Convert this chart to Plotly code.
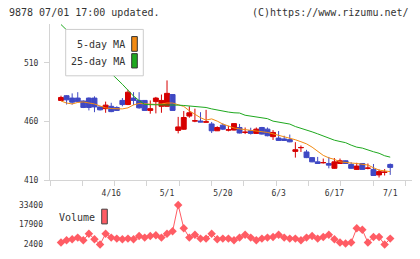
import plotly.graph_objects as go

# ---------------- data ----------------
tick_dates = ["4/16", "5/1", "5/20", "6/3", "6/17", "7/1"]
tick_idx = [9, 19, 29, 39, 49, 59]

opens = [478, 482, 480, 480, 477.5, 480, 480, 472.5, 471, 473,
         472, 478, 474.5, 480, 478, 478, 469.5, 477, 473, 473,
         483, 452.5, 453.5, 464.7, 460.5, 460.5, 459.5, 458, 452.2, 457,
         452.8, 452.8, 455, 450.8, 452.2, 450, 455, 453.6, 447.2, 446,
         445.3, 444.7, 434.7, 437.8, 434.2, 429.4, 425.8, 425, 424.4, 420.3,
         424.4, 426.7, 423.6, 419.4, 424.4, 420.3, 419.4, 414.7, 416.9, 423.6]
highs = [482, 482.5, 484, 485, 478, 480.5, 481.5, 473, 477, 476,
         473, 480, 487, 485, 485, 478, 478, 481, 483, 495,
         483, 464, 469, 473, 471, 468, 470, 459.7, 456, 458.5,
         456.4, 458.5, 458, 455, 454.8, 455, 455.5, 455, 452.8, 452,
         448, 449, 442.5, 439.7, 436, 429.5, 430, 428.6, 430, 429,
         428.6, 427, 425.5, 425, 424.5, 424.4, 424, 419.4, 419.7, 424.4]
lows = [477.5, 474.5, 474.5, 476.5, 471.5, 469.5, 468, 469.5, 467.5, 468,
        469, 473, 474, 474, 471, 469.5, 466.7, 467, 467.5, 473,
        469.5, 450, 453, 463.3, 459.5, 459.5, 459.5, 450.3, 452, 452.8,
        451.7, 452.5, 450, 449.4, 449, 449.5, 449, 447.5, 444.4, 443.8,
        443.7, 442.5, 429.4, 434.2, 429, 425.5, 424.2, 424.4, 420.3, 420,
        424, 424, 420, 419, 419.3, 419.4, 414, 412.5, 414.2, 414.7]
closes = [480.5, 478.5, 476.5, 477, 472, 472, 472.5, 470, 474, 468.5,
          469.5, 474.5, 485, 478, 471.7, 469.5, 471, 480, 478, 484,
          469.5, 455.5, 463.5, 467.5, 460.7, 459.7, 459.8, 452.2, 455, 453.6,
          453, 458.3, 450.3, 451, 450, 453.6, 449.4, 448, 450.8, 444,
          444, 442.8, 436.1, 438, 429.4, 425.8, 424.4, 425.2, 423, 425.8,
          426.7, 424.4, 420.3, 422.2, 419.4, 420.5, 414.2, 417.5, 417.1, 421.1]
ma5 = [477.5, 475.8, 475, 476.3, 476.7, 475.8, 475, 473.3, 471.7, 471.1,
       470.8, 470.8, 471.7, 474.2, 475.4, 475, 475, 474.6, 475, 475.8,
       475.8, 474.6, 472.9, 469.2, 466.1, 463.3, 461.3, 462.3, 460.4, 457.9,
       456.3, 454.6, 453.8, 453.3, 452.8, 452.1, 451.7, 450.8, 449.6, 448.3,
       447.5, 446.3, 444.6, 442.9, 441.1, 438.3, 434.6, 431.3, 429.2, 427.9,
       425.8, 425, 424.8, 424.4, 423.9, 423.1, 420.8, 418.8, 418.1, 417.5]
ma25 = [542.5, 537.9, 533.3, 528.8, 524.2, 519.6, 515, 510.4, 505.8, 501.3,
        497, 491.7, 486.7, 481.7, 477.9, 474.6, 474.4, 474.4, 474.2, 474.2,
        474.2, 474, 473.7, 473.3, 472.8, 472.3, 472, 470.8, 469.8, 468.9,
        468.1, 467.5, 467.3, 465.4, 464.6, 464, 463.5, 462.5, 460.4, 459.6,
        458.9, 457.9, 455.8, 454.3, 453.3, 451.3, 449.6, 447.9, 445.8, 444.2,
        443.1, 442.1, 440, 438.3, 437.5, 435.8, 434.4, 433.1, 431, 429.8]
volume = [3700, 5500, 6300, 7600, 5500, 10700, 6300, 2150, 10700, 7600,
          6800, 6300, 6800, 6300, 8800, 7600, 8800, 9400, 7600, 10700,
          12700, 33400, 15000, 7600, 9900, 6800, 6800, 10700, 6300, 6800,
          6800, 5500, 7600, 9900, 7600, 5500, 6800, 7600, 8100, 9900,
          7600, 6800, 6800, 5500, 7600, 8800, 6800, 8100, 9900, 6300,
          3700, 2900, 3700, 15000, 13800, 3700, 8100, 8100, 2150, 6800]
price_ticks = [410, 460, 510]
vol_ticks = [2400, 17900, 33400]

# ---------------- layout helpers ----------------
W, H = 420, 259
X_LEFT, X_RIGHT = 50, 412          # plot area in pixels
PX0, PXSTEP = 61, 5.58             # pixel of first candle, pixel per candle
x_idx = list(range(len(closes)))
x_range = [(X_LEFT - PX0) / PXSTEP, (X_RIGHT - PX0) / PXSTEP]
main_ticks = [((X_LEFT + 32.3 * k) - PX0) / PXSTEP for k in range(12)]


def py(p):
    return 1 - p / H


def pxx(p):
    return p / W


FONT = "DejaVu Sans Mono"
RED = "#d60000"
BLUE = "#3f48c4"
ORANGE = "#f28a12"
GREEN = "#1ea81e"
VOLC = "#ff5c64"
AXC = "#d4d4d4"

fig = go.Figure()
fig.add_trace(go.Candlestick(
    x=x_idx, open=opens, high=highs, low=lows, close=closes,
    increasing=dict(line=dict(color=RED, width=1), fillcolor=RED),
    decreasing=dict(line=dict(color=BLUE, width=1), fillcolor=BLUE),
    whiskerwidth=0, xaxis="x", yaxis="y", showlegend=False))
fig.add_trace(go.Scatter(x=x_idx, y=ma5, mode="lines",
                         line=dict(color=ORANGE, width=1), xaxis="x", yaxis="y",
                         showlegend=False))
fig.add_trace(go.Scatter(x=x_idx, y=ma25, mode="lines",
                         line=dict(color=GREEN, width=1), xaxis="x", yaxis="y",
                         showlegend=False))
fig.add_trace(go.Scatter(x=x_idx, y=volume, mode="lines+markers",
                         line=dict(color=VOLC, width=1),
                         marker=dict(symbol="diamond", size=6.5, color=VOLC),
                         xaxis="x2", yaxis="y2", showlegend=False))

tickfont = dict(family=FONT, size=8, color="#333")
fig.update_layout(
    width=W, height=H, margin=dict(l=0, r=0, t=0, b=0),
    paper_bgcolor="white", plot_bgcolor="white",
    boxgap=0.12, boxgroupgap=0,
    xaxis=dict(domain=[pxx(X_LEFT), pxx(X_RIGHT)], range=x_range,
               showgrid=False, zeroline=False, showline=True, linecolor=AXC,
               ticks="outside", ticklen=5, tickcolor=AXC,
               tickvals=main_ticks, showticklabels=False,
               rangeslider=dict(visible=False), anchor="y"),
    yaxis=dict(domain=[py(184), py(24)], range=[410, 410 + 160 / 1.2],
               showgrid=False, zeroline=False, showline=True, linecolor=AXC,
               ticks="outside", ticklen=5, tickcolor=AXC,
               tickvals=price_ticks, ticktext=[str(v) for v in price_ticks],
               tickfont=tickfont, ticklabelstandoff=4, anchor="x"),
    xaxis2=dict(domain=[pxx(X_LEFT), pxx(X_RIGHT)], range=x_range,
                showgrid=False, zeroline=False, showline=False,
                side="top", ticks="", tickvals=tick_idx, ticktext=tick_dates,
                tickfont=tickfont, anchor="y2"),
    yaxis2=dict(domain=[py(256), py(203)], range=[-3025, 38050],
                showgrid=False, zeroline=False, showline=False, ticks="",
                tickvals=vol_ticks, ticktext=[str(v) for v in vol_ticks],
                tickfont=tickfont, ticklabelstandoff=6, anchor="x2"),
)

shapes = [
    dict(type="rect", xref="paper", yref="paper", layer="above",
         x0=pxx(65.7), x1=pxx(143.3), y0=py(77.3), y1=py(30),
         fillcolor="white", line=dict(color="#cccccc", width=1)),
    dict(type="rect", xref="paper", yref="paper", layer="above",
         x0=pxx(131.7), x1=pxx(137.3), y0=py(52.3), y1=py(37.3),
         fillcolor=ORANGE, line=dict(color="#333", width=1)),
    dict(type="rect", xref="paper", yref="paper", layer="above",
         x0=pxx(131.7), x1=pxx(137.3), y0=py(69.3), y1=py(54.7),
         fillcolor=GREEN, line=dict(color="#333", width=1)),
    dict(type="rect", xref="paper", yref="paper", layer="above",
         x0=pxx(101.7), x1=pxx(107.3), y0=py(228.3), y1=py(213.3),
         fillcolor=VOLC, line=dict(color="#444", width=1)),
]
fig.update_layout(shapes=shapes)

txtfont = dict(family=FONT, size=10, color="#333")
ann = [
    dict(text="9878 07/01 17:00 updated.", x=pxx(8), y=py(13), xanchor="left"),
    dict(text="(C)https://www.rizumu.net/", x=pxx(410), y=py(13), xanchor="right"),
    dict(text="5-day MA", x=pxx(126), y=py(45), xanchor="right"),
    dict(text="25-day MA", x=pxx(126), y=py(63), xanchor="right"),
    dict(text="Volume", x=pxx(58), y=py(222), xanchor="left"),
]
for a in ann:
    a.update(xref="paper", yref="paper", yanchor="middle", showarrow=False,
             font=txtfont, borderpad=0)
fig.update_layout(annotations=ann)

fig.write_html("out.html")
